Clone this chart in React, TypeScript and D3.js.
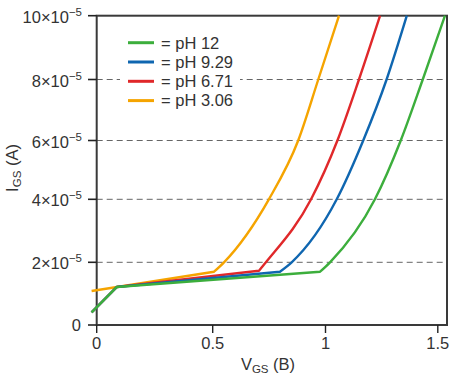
import React from "react";
import * as d3 from "d3";

const W = 456;
const H = 379;

const xTickValues = [0, 0.5, 1, 1.5];
const xTickLabels = ["0", "0.5", "1", "1.5"];
const yTickValues = [0, 2, 4, 6, 8, 10];
const yTickMantissa = ["0", "2", "4", "6", "8", "10"];
const gridValues = [2, 4, 6, 8];

const seriesNames = ["pH 12", "pH 9.29", "pH 6.71", "pH 3.06"];
const seriesColors = ["#3cae3c", "#0f66b0", "#e0282a", "#f5a400"];

const pH12X = [-0.022, 0.086, 0.976, 1.02, 1.22, 1.335, 1.433, 1.532];
const pH12Y = [0.405, 1.21, 1.7, 2, 4, 6, 8, 10];
const pH929X = [-0.022, 0.086, 0.798, 0.85, 1.05, 1.168, 1.272, 1.362];
const pH929Y = [0.405, 1.21, 1.7, 2, 4, 6, 8, 10];
const pH671X = [-0.022, 0.086, 0.705, 0.736, 0.936, 1.053, 1.149, 1.243];
const pH671Y = [0.405, 1.21, 1.73, 2, 4, 6, 8, 10];
const pH306X = [-0.022, 0.506, 0.55, 0.749, 0.879, 0.968, 1.06];
const pH306Y = [1.085, 1.7, 2, 4, 6, 8, 10];
// index of the point where the linear part ends and the curved rise begins
const kneeIndex = [2, 2, 2, 1];

const seriesX = [pH12X, pH929X, pH671X, pH306X];
const seriesY = [pH12Y, pH929Y, pH671Y, pH306Y];

const FONT = "'Liberation Sans', Arial, sans-serif";
const TXT = "#333";

export default function App() {
  const x = d3.scaleLinear().domain([0, 0.5, 1, 1.5]).range([96.7, 212.7, 325.5, 437.8]);
  const y = d3.scaleLinear().domain([0, 2, 4, 6, 8, 10]).range([325, 262.3, 199.3, 140.5, 79.5, 15.7]);
  const left = 96.7;
  const right = 447;
  const top = y(10);
  const bottom = y(0);

  const lin = d3.line<[number, number]>().x((d) => x(d[0])).y((d) => y(d[1]));
  const mono = d3
    .line<[number, number]>()
    .x((d) => x(d[0]))
    .y((d) => y(d[1]))
    .curve(d3.curveMonotoneX);

  const paths = seriesX.map((xs, i) => {
    const pts: [number, number][] = xs.map((v, j) => [v, seriesY[i][j]]);
    const k = kneeIndex[i];
    const a = lin(pts.slice(0, k + 1)) || "";
    const b = (mono(pts.slice(k)) || "").replace(/^M[^LC]*/, "");
    return a + b;
  });

  const drawOrder = [3, 2, 1, 0];

  return (
    <svg width={W} height={H} style={{ position: "absolute", left: 0, top: 0 }} fontFamily={FONT}>
      <rect x={0} y={0} width={W} height={H} fill="#fff" />
      {gridValues.map((g) => (
        <line
          key={g}
          x1={left}
          x2={right}
          y1={y(g)}
          y2={y(g)}
          stroke="#666"
          strokeWidth={1}
          strokeDasharray="6,4"
        />
      ))}
      {/* legend background */}
      <rect x={120} y={30} width={120} height={82} fill="#fff" />
      {/* frame */}
      <rect x={left} y={top} width={right - left} height={bottom - top} fill="none" stroke="#3a3a3a" strokeWidth={2} />
      {/* y ticks */}
      {yTickValues.map((v, i) => (
        <g key={v}>
          <line x1={88} x2={left} y1={y(v)} y2={y(v)} stroke="#222" strokeWidth={1.6} />
          {v === 0 ? (
            <text x={81} y={y(v) + 6} textAnchor="end" fontSize={16.5} fill={TXT}>
              0
            </text>
          ) : (
            <text x={82} y={y(v) + 7} textAnchor="end" fontSize={16.5} fill={TXT}>
              {yTickMantissa[i] + "×10"}
              <tspan fontSize={11.5} dy={-7}>
                −5
              </tspan>
            </text>
          )}
        </g>
      ))}
      {/* x ticks */}
      {xTickValues.map((v, i) => (
        <g key={v}>
          <line x1={x(v)} x2={x(v)} y1={bottom} y2={333} stroke="#222" strokeWidth={1.4} />
          <text x={x(v)} y={349} textAnchor="middle" fontSize={16.5} fill={TXT}>
            {xTickLabels[i]}
          </text>
        </g>
      ))}
      {/* axis titles */}
      <text x={268} y={370} textAnchor="middle" fontSize={16.5} fill={TXT}>
        V
        <tspan fontSize={11.5} dy={3}>
          GS
        </tspan>
        <tspan dy={-3}> (B)</tspan>
      </text>
      <text transform="translate(18,168) rotate(-90)" textAnchor="middle" fontSize={16.5} fill={TXT}>
        I
        <tspan fontSize={11.5} dy={3}>
          GS
        </tspan>
        <tspan dy={-3}> (A)</tspan>
      </text>
      {/* curves */}
      {drawOrder.map((i) => (
        <path key={i} d={paths[i]} fill="none" stroke={seriesColors[i]} strokeWidth={2.4} strokeLinejoin="round" />
      ))}
      {/* legend */}
      {seriesNames.map((n, i) => {
        const ly = 42.7 + i * 19.3;
        return (
          <g key={n}>
            <line x1={128} x2={154} y1={ly} y2={ly} stroke={seriesColors[i]} strokeWidth={3} />
            <text x={161} y={ly + 5.8} fontSize={16.5} fill={TXT}>
              {"= " + n}
            </text>
          </g>
        );
      })}
    </svg>
  );
}
